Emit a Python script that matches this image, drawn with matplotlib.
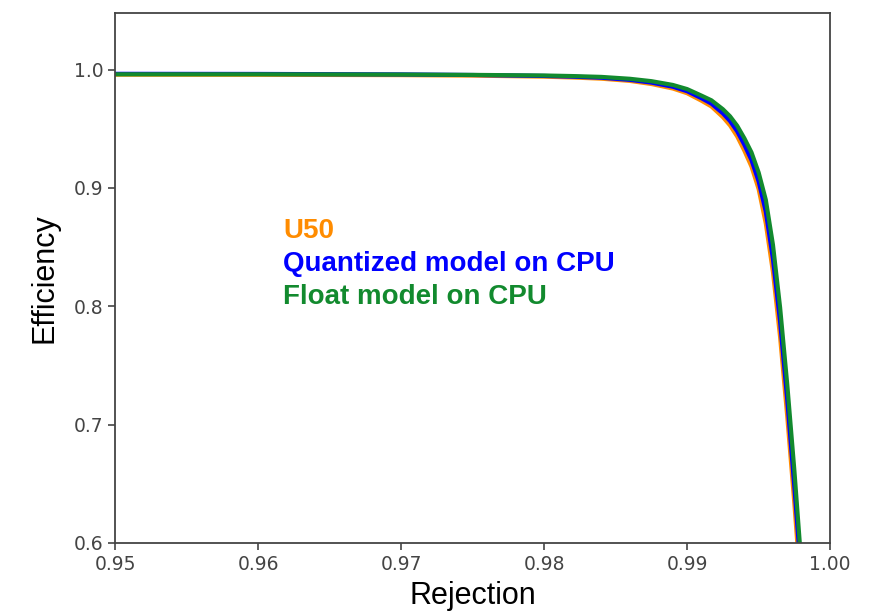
import numpy as np
import matplotlib
matplotlib.use('Agg')
import matplotlib.pyplot as plt

# rejection grid (x) shared by the three curves
rejection = [0.95, 0.96, 0.97, 0.975, 0.98, 0.982, 0.984, 0.986, 0.9875, 0.989,
             0.990, 0.991, 0.9917, 0.9925, 0.993, 0.9935, 0.994, 0.9945, 0.995,
             0.9955, 0.996, 0.9965, 0.997, 0.9975, 0.998]

eff_u50 = [0.9957, 0.9956, 0.9953, 0.9949, 0.9940, 0.9933, 0.9923, 0.9904, 0.9878, 0.9840,
           0.9800, 0.9737, 0.9688, 0.9598, 0.9528, 0.9435, 0.9315, 0.9180, 0.8990,
           0.8700, 0.8290, 0.7740, 0.7070, 0.6330, 0.5520]
eff_quant = [0.9964, 0.9963, 0.9959, 0.9954, 0.9946, 0.9940, 0.9931, 0.9913, 0.9890, 0.9855,
             0.9817, 0.9758, 0.9712, 0.9630, 0.9565, 0.9478, 0.9365, 0.9235, 0.9055,
             0.8800, 0.8400, 0.7870, 0.7210, 0.6470, 0.5680]
eff_float = [0.9960, 0.9960, 0.9958, 0.9955, 0.9950, 0.9945, 0.9938, 0.9922, 0.9902, 0.9870,
             0.9835, 0.9780, 0.9740, 0.9665, 0.9605, 0.9525, 0.9420, 0.9300, 0.9130,
             0.8900, 0.8520, 0.7990, 0.7340, 0.6610, 0.5800]

labels = ['U50', 'Quantized model on CPU', 'Float model on CPU']
colors = ['#ff8c00', '#0000ff', '#128a2e']

fig = plt.figure(figsize=(8.72, 6.13), dpi=100, facecolor='w')
ax = fig.add_axes([0.132, 0.1142, 0.820, 0.865])

for eff, c in zip([eff_u50, eff_quant, eff_float], colors):
    ax.plot(rejection, eff, '-', color=c, lw=3.0, solid_joinstyle='round')

ax.set_xlim(0.95, 1.00)
ax.set_ylim(0.6, 1.048)
ax.set_xticks([0.95, 0.96, 0.97, 0.98, 0.99, 1.00])
ax.set_xticklabels(['0.95', '0.96', '0.97', '0.98', '0.99', '1.00'])
ax.set_yticks([0.6, 0.7, 0.8, 0.9, 1.0])
ax.tick_params(labelsize=13.5, colors='#444444', length=5, width=1.2)
for s in ax.spines.values():
    s.set_color('#444444')
    s.set_linewidth(1.3)

ax.set_xlabel('Rejection', fontsize=22, family='Liberation Sans', labelpad=5)
ax.set_ylabel('Efficiency', fontsize=22, family='Liberation Sans', labelpad=10)

y0 = 237.5
for i, (t, c) in enumerate(zip(labels, colors)):
    fig.text(283 / 872, 1 - (y0 + 33 * i) / 613, t, color=c, fontsize=20,
             fontweight='bold', family='Liberation Sans', va='baseline')

fig.savefig('out.png', dpi=100)
